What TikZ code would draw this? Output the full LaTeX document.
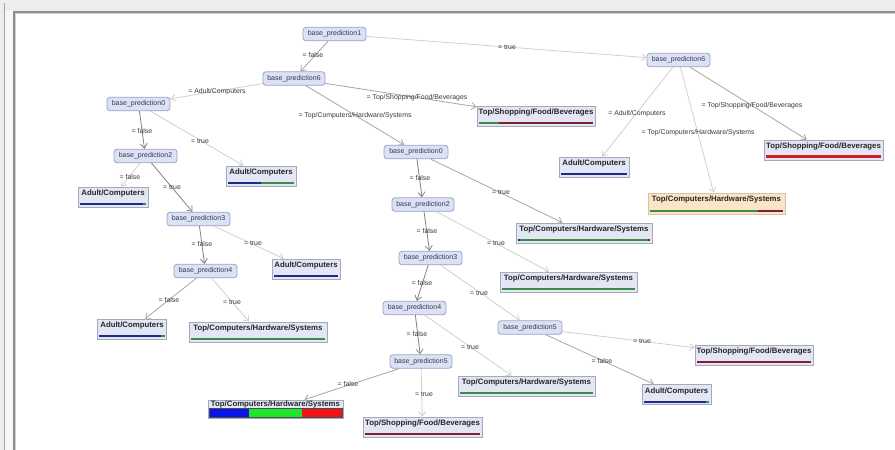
\documentclass[tikz,border=0pt]{standalone}
\usepackage{fontspec}
\setmainfont{Liberation Sans}
\usetikzlibrary{arrows.meta,calc}

% palette
\definecolor{dnfill}{HTML}{DCE2F4}
\definecolor{dnline}{HTML}{98A2C8}
\definecolor{dntext}{HTML}{33384F}
\definecolor{lffill}{HTML}{E2E6F5}
\definecolor{lfline}{HTML}{A4AABC}
\definecolor{orfill}{HTML}{FCE4C8}
\definecolor{orline}{HTML}{D6C2A6}
\definecolor{edk}{HTML}{828282}
\definecolor{emd}{HTML}{A6A6A6}
\definecolor{elt}{HTML}{D0D0D0}
\definecolor{lbltext}{HTML}{3A3A3A}
\definecolor{barblue}{HTML}{1E2A8C}
\definecolor{bargreen}{HTML}{3C8C46}
\definecolor{barmaroon}{HTML}{7E2233}
\definecolor{barred}{HTML}{CC1F22}
\definecolor{pureblue}{HTML}{0A14E6}
\definecolor{puregreen}{HTML}{1EE628}
\definecolor{purered}{HTML}{F01414}
\definecolor{bandc}{HTML}{EDEDED}
\definecolor{stripc}{HTML}{F7F7F7}
\definecolor{framedk}{HTML}{8E8E8E}
\definecolor{framelt}{HTML}{D0D0D0}

% leaf: name, position, width, label, bar segments (from/to/colour/thickness)
\newcommand{\leafnode}[6][leafbox]{%
  \node[#1, minimum width=#4] (#2) at (#3) {};
  \node[leaftext] (#2-t) at ([yshift=-7pt]#2.north) {#5};
  \coordinate (#2-bl) at ($(#2.south west)+(2,-2)$);
  \coordinate (#2-br) at ($(#2.south east)+(-2,-2)$);
  \foreach \fa/\fb/\fcol/\fth in {#6} {
    \fill[\fcol] ($(#2-bl)!\fa!(#2-br)$) rectangle ($(#2-bl)!\fb!(#2-br)+(0,-\fth)$);
  }%
}

\begin{document}
\begin{tikzpicture}[x=1pt,y=-1pt,
  decision/.style={draw=dnline, fill=dnfill, rounded corners=3pt, line width=0.8pt,
    minimum width=63pt, minimum height=13.5pt, inner sep=0pt,
    text=dntext, font=\fontsize{7}{8}\selectfont},
  leafbox/.style={draw=lfline, fill=lffill, line width=0.8pt,
    minimum height=20pt, inner sep=0pt},
  orangebox/.style={draw=orline, fill=orfill, line width=0.8pt,
    minimum height=21pt, inner sep=0pt},
  leaftext/.style={inner sep=0pt, text=black!85,
    font=\fontsize{7.8}{9}\selectfont\bfseries},
  lbl/.style={inner sep=0pt, text=lbltext, font=\fontsize{6.9}{8}\selectfont},
  edge/.style={line width=0.8pt, -{Straight Barb[length=4.5pt,width=7pt]}},
  edgeD/.style={edge, draw=edk},
  edgeM/.style={edge, draw=emd},
  edgeL/.style={edge, draw=elt},
]
\useasboundingbox (0,0) rectangle (895,450);

% window frame around the canvas
\fill[bandc] (0,0) rectangle (895,450);
\fill[stripc] (5,10) rectangle (13,450);
\draw[framedk!80, line width=1.2pt] (4.2,3) -- (4.2,450);
\fill[white] (13,11) rectangle (895,450);
\draw[framedk, line width=2pt] (13.5,450) -- (13.5,11.5) -- (895,11.5);
\draw[framelt, line width=1pt] (15.5,450) -- (15.5,13.5) -- (895,13.5);

% decision nodes
\node[decision] (bp1)  at (334.5,34)  {base\_prediction1};
\node[decision, minimum width=62pt] (bp6L) at (294,78.5) {base\_prediction6};
\node[decision] (bp6R) at (678.5,60)  {base\_prediction6};
\node[decision] (bp0L) at (138.5,104) {base\_prediction0};
\node[decision] (bp2L) at (145.5,156) {base\_prediction2};
\node[decision] (bp3L) at (198.5,219) {base\_prediction3};
\node[decision] (bp4L) at (205.5,271) {base\_prediction4};
\node[decision, minimum width=64pt] (bp0M) at (416,152) {base\_prediction0};
\node[decision, minimum width=62pt] (bp2M) at (423,204.5) {base\_prediction2};
\node[decision] (bp3M) at (430.5,258) {base\_prediction3};
\node[decision] (bp4M) at (414.5,308) {base\_prediction4};
\node[decision, minimum width=62pt] (bp5M) at (421,361.5) {base\_prediction5};
\node[decision, minimum width=64pt] (bp5R) at (530,327.5) {base\_prediction5};

% leaves with their class bars
\leafnode{S1}{536,116}{118pt}{Top/Shopping/Food/Beverages}{0/0.18/bargreen/2.2, 0.18/1/barmaroon/2.2}
\leafnode{A1}{261,176}{70pt}{Adult/Computers}{0/0.5/barblue/2.2, 0.5/1/bargreen/2.2}
\leafnode{A2}{113,197}{70pt}{Adult/Computers}{0/0.95/barblue/2.2, 0.95/1/bargreen/2.2}
\leafnode{A3}{306,269}{68pt}{Adult/Computers}{0/1/barblue/2.2}
\leafnode{A4}{132,329}{69pt}{Adult/Computers}{0/0.94/barblue/2.2, 0.94/1/bargreen/2.2}
\leafnode{T1}{258,332}{138pt}{Top/Computers/Hardware/Systems}{0/1/bargreen/2.2}
\leafnode{T2}{584,233}{136pt}{Top/Computers/Hardware/Systems}{0/0.02/barblue/2.2, 0.02/0.98/bargreen/2.2, 0.98/1/barmaroon/2.2}
\leafnode{T3}{568.5,282}{137pt}{Top/Computers/Hardware/Systems}{0/1/bargreen/2.2}
\leafnode{T4}{526.5,386}{137pt}{Top/Computers/Hardware/Systems}{0/1/bargreen/2.2}
\leafnode{S2}{422.5,427}{119pt}{Top/Shopping/Food/Beverages}{0/1/barmaroon/2.2}
\leafnode{S3}{754,355}{118pt}{Top/Shopping/Food/Beverages}{0/1/barmaroon/2.2}
\leafnode{A5}{676.5,394.5}{69pt}{Adult/Computers}{0/0.95/barblue/2.2, 0.95/1/bargreen/2.2}
\leafnode{A6}{594,167}{70pt}{Adult/Computers}{0/1/barblue/2.2}
\leafnode{S4}{823.5,150}{119pt}{Top/Shopping/Food/Beverages}{0/1/barred/3.2}
\leafnode[orangebox]{T6}{716.5,203.5}{137pt}{Top/Computers/Hardware/Systems}{0/0.81/bargreen/2.2, 0.81/1/barmaroon/2.2}

% leaf with a wide three-colour bar directly under its label
\node[leafbox, minimum width=135pt, minimum height=18pt] (T5) at (275.5,409) {};
\node[leaftext] (T5-t) at ([yshift=-5pt]T5.north) {Top/Computers/Hardware/Systems};
\coordinate (T5-bl) at ($(T5.south west)+(1.5,-1.5)$);
\coordinate (T5-br) at ($(T5.south east)+(-1.5,-1.5)$);
\fill[pureblue]  (T5-bl) rectangle ($(T5-bl)!0.3!(T5-br)+(0,-8.5)$);
\fill[puregreen] ($(T5-bl)!0.3!(T5-br)$) rectangle ($(T5-bl)!0.7!(T5-br)+(0,-8.5)$);
\fill[purered]   ($(T5-bl)!0.7!(T5-br)$) rectangle ($(T5-br)+(0,-8.5)$);
\draw[black!70, line width=0.5pt] (T5-bl) rectangle ($(T5-br)+(0,-8.5)$);

% connectors
\draw[edgeM] (bp1) -- (bp6L);
\draw[edgeL] (bp1) -- (bp6R);
\draw[edgeL] (bp6L) -- (bp0L);
\draw[edgeM] (bp6L) -- (S1);
\draw[edgeM] (bp6L) -- (bp0M);
\draw[edgeD] (bp0L) -- (bp2L);
\draw[edgeL] (bp0L) -- (A1);
\draw[edgeL] (bp2L) -- (A2);
\draw[edgeD] (bp2L) -- (bp3L);
\draw[edgeD] (bp3L) -- (bp4L);
\draw[edgeL] (bp3L) -- (A3);
\draw[edgeM] (bp4L) -- (A4);
\draw[edgeL] (bp4L) -- (T1);
\draw[edgeD] (bp0M) -- (bp2M);
\draw[edgeM] (bp0M) -- (T2);
\draw[edgeD] (bp2M) -- (bp3M);
\draw[edgeL] (bp2M) -- (T3);
\draw[edgeD] (bp3M) -- (bp4M);
\draw[edgeL] (bp3M) -- (bp5R);
\draw[edgeD] (bp4M) -- (bp5M);
\draw[edgeL] (bp4M) -- (T4);
\draw[edgeM] (bp5M) -- (T5);
\draw[edgeL] (bp5M) -- (S2);
\draw[edgeL] (bp5R) -- (S3);
\draw[edgeM] (bp5R) -- (A5);
\draw[edgeL] (bp6R) -- (A6);
\draw[edgeL] (bp6R) -- (T6);
\draw[edgeM] (bp6R) -- (S4);

% connector labels
\node[lbl] (l01) at (313,55)  {= false};
\node[lbl] (l02) at (507,47)  {= true};
\node[lbl] (l03) at (217,92)  {= Adult/Computers};
\node[lbl] (l04) at (417,98)  {= Top/Shopping/Food/Beverages};
\node[lbl] (l05) at (355,116) {= Top/Computers/Hardware/Systems};
\node[lbl] (l06) at (142,131) {= false};
\node[lbl] (l07) at (200,141) {= true};
\node[lbl] (l08) at (130,177) {= false};
\node[lbl] (l09) at (172,187) {= true};
\node[lbl] (l10) at (202,244) {= false};
\node[lbl] (l11) at (253,243) {= true};
\node[lbl] (l12) at (169,300) {= false};
\node[lbl] (l13) at (232,302) {= true};
\node[lbl] (l14) at (420,178) {= false};
\node[lbl] (l15) at (501,192) {= true};
\node[lbl] (l16) at (427,231) {= false};
\node[lbl] (l17) at (496,243) {= true};
\node[lbl] (l18) at (422,283) {= false};
\node[lbl] (l19) at (479,293) {= true};
\node[lbl] (l20) at (417,334) {= false};
\node[lbl] (l21) at (470,347) {= true};
\node[lbl] (l22) at (348,384) {= false};
\node[lbl] (l23) at (424,394) {= true};
\node[lbl] (l24) at (642,341) {= true};
\node[lbl] (l25) at (602,361) {= false};
\node[lbl] (l26) at (637,114) {= Adult/Computers};
\node[lbl] (l27) at (698,133) {= Top/Computers/Hardware/Systems};
\node[lbl] (l28) at (752,106) {= Top/Shopping/Food/Beverages};
\end{tikzpicture}
\end{document}
